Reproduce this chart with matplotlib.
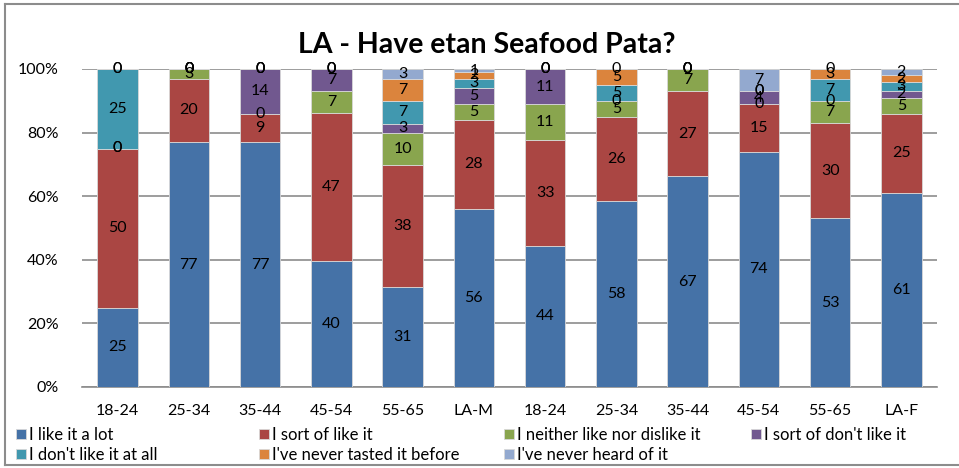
import numpy as np
import matplotlib
matplotlib.use("Agg")
import matplotlib.pyplot as plt
from matplotlib.lines import Line2D

plt.rcParams['font.family'] = ['Lato', 'DejaVu Sans']

groups = ['18-24', '25-34', '35-44', '45-54', '55-65', 'LA-M',
          '18-24', '25-34', '35-44', '45-54', '55-65', 'LA-F']

series = ['I like it a lot', 'I sort of like it', 'I neither like nor dislike it',
          "I sort of don't like it", "I don't like it at all",
          "I've never tasted it before", "I've never heard of it"]

like_lot = [25, 77, 77, 40, 31, 56, 44, 58, 67, 74, 53, 61]
sort_like = [50, 20, 9, 47, 38, 28, 33, 26, 27, 15, 30, 25]
neither = [0, 3, 0, 7, 10, 5, 11, 5, 7, 0, 7, 5]
sort_dislike = [0, 0, 14, 7, 3, 5, 11, 0, 0, 4, 0, 2]
dislike = [25, 0, 0, 0, 7, 3, 0, 5, 0, 0, 7, 3]
never_tasted = [0, 0, 0, 0, 7, 2, 0, 5, 0, 0, 3, 2]
never_heard = [0, 0, 0, 0, 3, 1, 0, 0, 0, 7, 0, 2]

colors = ['#4572A7', '#AA4643', '#89A54E', '#71588F', '#4198AF', '#DB843D', '#93A9CF']

data = np.array([like_lot, sort_like, neither, sort_dislike, dislike,
                 never_tasted, never_heard], dtype=float)
pct = data / data.sum(axis=0) * 100

fig = plt.figure(figsize=(9.59, 4.68), dpi=100)
ax = fig.add_axes([82 / 959, 1 - 387 / 468, 855 / 959, 318 / 468])

x = np.arange(len(groups))
bottom = np.zeros(len(groups))
handles = []
for i, name in enumerate(series):
    h = ax.bar(x, pct[i], 0.57, bottom=bottom, color=colors[i], label=name,
               edgecolor='#d8d8d8', linewidth=0.6, zorder=3)
    handles.append(h)
    for j in range(len(groups)):
        ax.text(x[j], bottom[j] + pct[i][j] / 2, f"{int(data[i][j])}",
                ha='center', va='center', fontsize=11.5, color='black', zorder=4)
    bottom += pct[i]

ax.set_xlim(-0.5, len(groups) - 0.5)
ax.set_ylim(0, 100)
ax.set_yticks(range(0, 101, 20))
ax.set_yticklabels([f"{v}%" for v in range(0, 101, 20)], fontsize=11.5)
ax.set_xticks(x)
ax.set_xticklabels(groups, fontsize=11.5)
ax.tick_params(length=0, pad=12)
ax.tick_params(axis='y', pad=17)
ax.yaxis.grid(True, color='#8c8c8c', linewidth=1.2, zorder=0)
for s in ['top', 'right', 'left']:
    ax.spines[s].set_visible(False)
ax.spines['bottom'].set_color('#8c8c8c')
ax.spines['bottom'].set_linewidth(1.2)

fig.text(487 / 959, 1 - 45 / 468, 'LA - Have etan Seafood Pata?', ha='center',
         va='center', fontsize=20.5, fontweight='bold')

# legend entries placed one by one, Excel style
leg_x = [16, 259, 504, 751]
leg_y = [435, 455]
slots = [(0, 0), (1, 0), (2, 0), (3, 0), (0, 1), (1, 1), (2, 1)]
for k, (c, r) in enumerate(slots):
    fig.legend([handles[k]], [series[k]], loc='center left',
               bbox_to_anchor=(leg_x[c] / 959, 1 - leg_y[r] / 468),
               frameon=False, fontsize=12, handlelength=0.6, handleheight=0.6,
               handletextpad=0.2, borderaxespad=0, borderpad=0)

fig.add_artist(Line2D([5 / 959, 5 / 959], [1 - 4 / 468, 1 - 465 / 468],
                      transform=fig.transFigure, color='#8c8c8c', lw=1.5))
fig.add_artist(Line2D([5 / 959, 1], [1 - 4 / 468, 1 - 4 / 468],
                      transform=fig.transFigure, color='#8c8c8c', lw=1.5))
fig.add_artist(Line2D([5 / 959, 1], [1 - 465 / 468, 1 - 465 / 468],
                      transform=fig.transFigure, color='#8c8c8c', lw=1.5))

fig.savefig('out.png', dpi=100)
